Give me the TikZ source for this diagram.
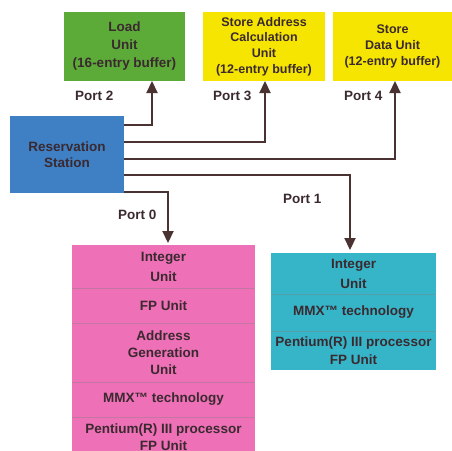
\documentclass[tikz,border=0pt]{standalone}
\usepackage{fontspec}
\setmainfont{Liberation Sans}
\usetikzlibrary{arrows.meta}
\definecolor{cgreen}{HTML}{5CAB38}
\definecolor{cyellow}{HTML}{F6E500}
\definecolor{cblue}{HTML}{3F80C5}
\definecolor{cpink}{HTML}{EE70B7}
\definecolor{ccyan}{HTML}{36B4C8}
\definecolor{txt}{HTML}{3A2A30}
\definecolor{arrc}{HTML}{4B3232}
\begin{document}
\begin{tikzpicture}[x=1pt,y=-1pt,
  box/.style={inner sep=0pt, outer sep=0pt, align=center, anchor=north west, text=txt},
  lbl/.style={inner sep=0pt, anchor=west, text=txt, font=\bfseries\fontsize{13.5}{16}\selectfont},
  divp/.style={draw=cpink!60!gray, line width=0.8pt},
  divc/.style={draw=ccyan!60!gray, line width=0.8pt},
  arr/.style={draw=arrc, line width=2.2pt, -{Triangle[width=11pt,length=12pt]}}]
\useasboundingbox (0,0) rectangle (452,450);
\clip (0,0) rectangle (452,450);
% top units
\node[box, fill=cgreen, minimum width=121pt, minimum height=69pt, font=\bfseries\fontsize{13.5}{18}\selectfont] (load) at (64,12) {Load\\Unit\\(16-entry buffer)};
\node[box, fill=cyellow, minimum width=122pt, minimum height=69pt, font=\bfseries\fontsize{12.5}{15.6}\selectfont] (sac) at (203,12) {Store Address\\Calculation\\Unit\\(12-entry buffer)};
\node[box, fill=cyellow, minimum width=119pt, minimum height=69pt, font=\bfseries\fontsize{12.5}{15.6}\selectfont] (sdu) at (333,12) {Store\\Data Unit\\(12-entry buffer)};
% reservation station
\node[box, fill=cblue, minimum width=114pt, minimum height=77pt, font=\bfseries\fontsize{13.5}{16}\selectfont] (rs) at (10,116) {Reservation\\Station};
% pink stack
\node[box, fill=cpink, minimum width=183pt, minimum height=43pt, font=\bfseries\fontsize{13.5}{20}\selectfont] (p1) at (72,245) {Integer\\Unit};
\node[box, fill=cpink, minimum width=183pt, minimum height=35pt, font=\bfseries\fontsize{13.5}{17}\selectfont] (p2) at (72,288) {FP Unit};
\node[box, fill=cpink, minimum width=183pt, minimum height=59pt, font=\bfseries\fontsize{13.5}{17}\selectfont] (p3) at (72,323) {Address\\Generation\\Unit};
\node[box, fill=cpink, minimum width=183pt, minimum height=35pt, font=\bfseries\fontsize{13.5}{17}\selectfont] (p4) at (72,382) {MMX™ technology};
\node[box, fill=cpink, minimum width=183pt, minimum height=56pt, font=\bfseries\fontsize{13.5}{17}\selectfont, text depth=15pt] (p5) at (72,417) {Pentium(R) III processor\\FP Unit};
\draw[divp] (p1.south west) -- (p1.south east);
\draw[divp] (p2.south west) -- (p2.south east);
\draw[divp] (p3.south west) -- (p3.south east);
\draw[divp] (p4.south west) -- (p4.south east);
% cyan stack
\node[box, fill=ccyan, minimum width=165pt, minimum height=41pt, font=\bfseries\fontsize{13.5}{20}\selectfont] (c1) at (271,253) {Integer\\Unit};
\node[box, fill=ccyan, minimum width=165pt, minimum height=37pt, font=\bfseries\fontsize{13.5}{17}\selectfont] (c2) at (271,294) {MMX™ technology};
\node[box, fill=ccyan, minimum width=165pt, minimum height=39pt, font=\bfseries\fontsize{13.5}{18}\selectfont] (c3) at (271,331) {Pentium(R) III processor\\FP Unit};
\draw[divc] (c1.south west) -- (c1.south east);
\draw[divc] (c2.south west) -- (c2.south east);
% port labels
\node[lbl] (l2) at (75,96) {Port 2};
\node[lbl] (l3) at (213,96) {Port 3};
\node[lbl] (l4) at (344,96) {Port 4};
\node[lbl] (l1) at (283,199) {Port 1};
\node[lbl] (l0) at (118,215) {Port 0};
% connectors
\draw[arr] ([yshift=-9pt]rs.north east) -| ([xshift=27.5pt]load.south);
\draw[arr] ([yshift=-26pt]rs.north east) -| ([xshift=1pt]sac.south);
\draw[arr] ([yshift=-43pt]rs.north east) -| ([xshift=2.5pt]sdu.south);
\draw[arr] ([yshift=-59pt]rs.north east) -| ([xshift=-3.5pt,yshift=3pt]c1.north);
\draw[arr] ([yshift=-76pt]rs.north east) -| ([xshift=4.5pt,yshift=2pt]p1.north);
\end{tikzpicture}
\end{document}
